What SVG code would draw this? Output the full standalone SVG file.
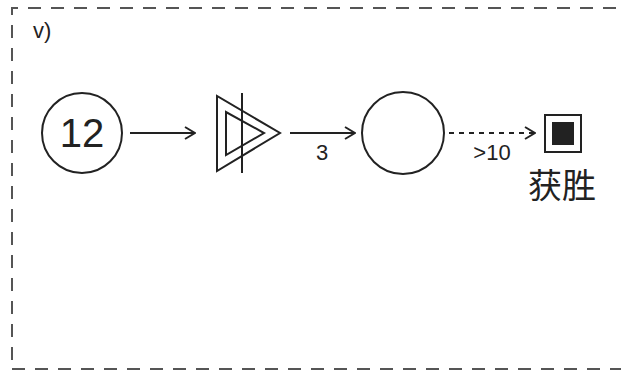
<svg xmlns="http://www.w3.org/2000/svg" width="621" height="375" viewBox="0 0 621 375">
<defs>
<style>
.ln{fill:none;stroke:#222;stroke-width:2}
.frame{fill:none;stroke:#555;stroke-width:2;stroke-dasharray:13 10}
.t{font-family:"Liberation Sans",Arial,sans-serif;fill:#222}
.cjk{font-family:"Noto Sans CJK SC","Liberation Sans",sans-serif;fill:#222}
</style>
<marker id="arr" viewBox="0 0 12 14" refX="11" refY="7" markerWidth="12" markerHeight="14" markerUnits="userSpaceOnUse" orient="auto">
<path d="M1,1 L11,7 L1,13" fill="none" stroke="#222" stroke-width="2"/>
</marker>
</defs>
<rect width="621" height="375" fill="#fff"/>
<path class="frame" d="M12,360 L12,8 L621,8"/>
<path class="frame" d="M12,369 L621,369"/>
<text class="t" x="33" y="38" font-size="22">v)</text>
<g id="node-12">
<circle class="ln" cx="82" cy="133" r="40"/>
<text class="t" x="82" y="147" font-size="40" text-anchor="middle">12</text>
</g>
<g id="node-amp">
<polygon class="ln" points="217,96 217,171 280,133"/>
<polygon class="ln" points="226,112 226,155 264,133"/>
<line class="ln" x1="242" y1="93" x2="242" y2="173"/>
</g>
<g id="node-empty">
<circle class="ln" cx="403" cy="133" r="41"/>
</g>
<g id="node-win">
<rect class="ln" x="545" y="115" width="36" height="37"/>
<rect x="552" y="122" width="22" height="23" fill="#222"/>
<text class="cjk" x="562" y="198" font-size="34" text-anchor="middle">获胜</text>
</g>
<g id="connectors">
<line class="ln" x1="130" y1="133" x2="195" y2="133" marker-end="url(#arr)"/>
<line class="ln" x1="290" y1="133" x2="355" y2="133" marker-end="url(#arr)"/>
<text class="t" x="322" y="160" font-size="22" text-anchor="middle">3</text>
<line class="ln" x1="449" y1="133" x2="535" y2="133" stroke-dasharray="5 5" marker-end="url(#arr)"/>
<text class="t" x="492" y="160" font-size="22" text-anchor="middle">&gt;10</text>
</g>
</svg>
